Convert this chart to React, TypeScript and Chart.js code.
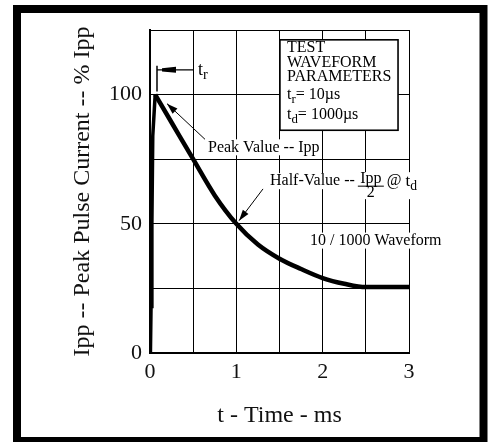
import { useEffect, useRef } from "react";
import { Chart, registerables } from "chart.js";

Chart.register(...registerables);

// ---- data ----
const riseTimeMs = [0.005, 0.012, 0.022, 0.032, 0.06];
const risePct = [0, 18, 50, 84, 100];
const decayTimeMs = [0.06, 0.25, 0.5, 0.75, 1.0, 1.25, 1.5, 1.75, 2.0, 2.25, 2.5, 3.0];
const decayPct = [100, 89.2, 75, 61, 50, 42, 36.5, 32.5, 29, 26.8, 25.5, 25.5];
const xTickLabels = [0, 1, 2, 3];
const yTickLabels = [0, 50, 100];
const xTitle = "t - Time - ms";
const yTitle = "Ipp -- Peak Pulse Current -- % Ipp";
const boxLines = ["TEST", "WAVEFORM", "PARAMETERS"];
const riseLabel = { main: "t", sub: "r", rest: "= 10\u00b5s" };
const decayLabel = { main: "t", sub: "d", rest: "= 1000\u00b5s" };
const peakText = "Peak Value -- Ipp";
const halfText = "Half-Value --";
const waveText = "10 / 1000 Waveform";

const FONT = '"Liberation Serif", "Times New Roman", serif';

function fontOf(size: number) {
  return `${size}px ${FONT}`;
}

const framePlugin = {
  id: "frame",
  beforeDraw(chart: any) {
    const ctx = chart.ctx as CanvasRenderingContext2D;
    ctx.save();
    ctx.fillStyle = "#fff";
    ctx.fillRect(0, 0, chart.width, chart.height);
    ctx.strokeStyle = "#000";
    ctx.lineWidth = 8;
    ctx.strokeRect(17, 9, 466.5, 432);
    ctx.restore();
  },
};

function line(ctx: CanvasRenderingContext2D, x1: number, y1: number, x2: number, y2: number) {
  ctx.beginPath();
  ctx.moveTo(x1, y1);
  ctx.lineTo(x2, y2);
  ctx.stroke();
}

function arrow(ctx: CanvasRenderingContext2D, x1: number, y1: number, x2: number, y2: number) {
  line(ctx, x1, y1, x2, y2);
  const a = Math.atan2(y2 - y1, x2 - x1);
  const len = 11;
  const hw = 3.5;
  const bx = x2 - Math.cos(a) * len;
  const by = y2 - Math.sin(a) * len;
  ctx.beginPath();
  ctx.moveTo(x2, y2);
  ctx.lineTo(bx - Math.sin(a) * hw, by + Math.cos(a) * hw);
  ctx.lineTo(bx + Math.sin(a) * hw, by - Math.cos(a) * hw);
  ctx.closePath();
  ctx.fill();
}

function subText(ctx: CanvasRenderingContext2D, main: string, sub: string, rest: string, x: number, y: number, size: number) {
  ctx.font = fontOf(size);
  ctx.fillText(main, x, y);
  let w = ctx.measureText(main).width;
  ctx.font = fontOf(size * 0.8);
  ctx.fillText(sub, x + w, y + size * 0.3);
  w += ctx.measureText(sub).width;
  ctx.font = fontOf(size);
  if (rest) {
    ctx.fillText(rest, x + w, y);
    w += ctx.measureText(rest).width;
  }
  return w;
}

function bgText(ctx: CanvasRenderingContext2D, text: string, x: number, y: number, size: number) {
  ctx.font = fontOf(size);
  const w = ctx.measureText(text).width;
  ctx.fillStyle = "#fff";
  ctx.fillRect(x - 1, y - size * 0.5, w + 2, size);
  ctx.fillStyle = "#000";
  ctx.fillText(text, x, y);
  return w;
}

const annotationPlugin = {
  id: "notes",
  afterDraw(chart: any) {
    const ctx = chart.ctx as CanvasRenderingContext2D;
    const xs = chart.scales.x;
    const ys = chart.scales.y;
    const X = (v: number) => xs.getPixelForValue(v);
    const Y = (v: number) => ys.getPixelForValue(v);
    ctx.save();
    ctx.fillStyle = "#000";
    ctx.strokeStyle = "#000";
    ctx.textBaseline = "middle";
    ctx.textAlign = "left";

    // rise-time marker
    ctx.lineWidth = 1.5;
    line(ctx, X(0.081), Y(111.2), X(0.081), Y(101.2));
    ctx.lineWidth = 1.2;
    const ay = Y(109.6);
    line(ctx, X(0.081), ay, X(0.5), ay);
    ctx.beginPath();
    ctx.moveTo(X(0.139), ay - 1.6);
    ctx.lineTo(X(0.301), ay - 3);
    ctx.lineTo(X(0.301), ay + 3);
    ctx.lineTo(X(0.139), ay + 1.6);
    ctx.closePath();
    ctx.fill();
    subText(ctx, riseLabel.main, riseLabel.sub, "", X(0.556), ay, 18);

    // parameter box
    const bx0 = X(1.505), bx1 = X(2.873), by0 = Y(121.2), by1 = Y(86.2);
    ctx.fillStyle = "#fff";
    ctx.fillRect(bx0, by0, bx1 - bx0, by1 - by0);
    ctx.fillStyle = "#000";
    ctx.lineWidth = 1.6;
    ctx.strokeRect(bx0, by0, bx1 - bx0, by1 - by0);
    const tx = X(1.587);
    const lineYs = [118.3, 112.3, 106.7];
    ctx.font = fontOf(16);
    boxLines.forEach((t, i) => ctx.fillText(t, tx, Y(lineYs[i])));
    subText(ctx, riseLabel.main, riseLabel.sub, riseLabel.rest, tx, Y(99.8), 16);
    subText(ctx, decayLabel.main, decayLabel.sub, decayLabel.rest, tx, Y(92.0), 16);

    // peak value label + arrow
    ctx.lineWidth = 1;
    arrow(ctx, X(0.637), Y(82.7), X(0.197), Y(96.5));
    bgText(ctx, peakText, X(0.672), Y(79.6), 16);

    // half value label + arrow
    arrow(ctx, X(1.309), Y(63.5), X(1.031), Y(51.2));
    const hx = X(1.39), hy = Y(66.5);
    const w1 = bgText(ctx, halfText, hx, hy, 16);
    const fl = hx + w1 + 3;
    const fw = 26;
    ctx.fillStyle = "#fff";
    ctx.fillRect(fl - 1, hy - 9, fw + 66, 27);
    ctx.fillStyle = "#000";
    ctx.font = fontOf(16);
    ctx.textAlign = "center";
    ctx.fillText("Ipp", fl + fw / 2, hy - 2.5);
    ctx.fillText("2", fl + fw / 2, hy + 12);
    ctx.textAlign = "left";
    ctx.lineWidth = 1;
    line(ctx, fl, hy + 5, fl + fw, hy + 5);
    ctx.font = fontOf(16);
    const atX = fl + fw + 3;
    ctx.fillText("@", atX, hy);
    const aw = ctx.measureText("@ ").width;
    subText(ctx, "t", "d", "", atX + aw, hy, 17);

    // waveform label
    bgText(ctx, waveText, X(1.853), Y(43.5), 16);

    ctx.restore();
  },
};

export default function App() {
  const ref = useRef<HTMLCanvasElement | null>(null);

  useEffect(() => {
    if (!ref.current) return;
    const common = {
      borderColor: "#000",
      borderWidth: 4.5,
      pointRadius: 0,
      fill: false,
      borderJoinStyle: "miter",
    };
    const chart = new Chart(ref.current, {
      type: "line",
      data: {
        datasets: [
          {
            ...common,
            borderWidth: 3.5,
            data: riseTimeMs.map((t, i) => ({ x: t, y: risePct[i] })),
            tension: 0,
          },
          {
            ...common,
            data: decayTimeMs.map((t, i) => ({ x: t, y: decayPct[i] })),
            cubicInterpolationMode: "monotone",
          },
        ],
      },
      options: {
        animation: false,
        responsive: false,
        events: [],
        layout: { padding: { left: 0, top: 30, right: 84, bottom: 0 } },
        plugins: { legend: { display: false }, tooltip: { enabled: false } },
        scales: {
          x: {
            type: "linear",
            min: 0,
            max: 3,
            afterFit: (s: any) => {
              s.height = 89;
            },
            ticks: {
              stepSize: 0.5,
              autoSkip: false,
              maxRotation: 0,
              padding: 6,
              color: "#111",
              font: { family: FONT, size: 22 },
              callback: (v: any) => (xTickLabels.includes(Number(v)) ? String(v) : ""),
            },
            grid: { color: "#000", lineWidth: 1, drawTicks: false },
            border: { display: true, color: "#000", width: 2 },
            title: {
              display: true,
              text: xTitle,
              color: "#111",
              font: { family: FONT, size: 24 },
              padding: { top: 0, bottom: 12 },
            },
          },
          y: {
            type: "linear",
            min: 0,
            max: 125,
            afterFit: (s: any) => {
              s.width = 150;
            },
            ticks: {
              stepSize: 25,
              autoSkip: false,
              padding: 8,
              color: "#111",
              font: { family: FONT, size: 22 },
              callback: (v: any) => (yTickLabels.includes(Number(v)) ? String(v) : ""),
            },
            grid: { color: "#000", lineWidth: 1, drawTicks: false },
            border: { display: true, color: "#000", width: 2 },
            title: {
              display: true,
              text: yTitle,
              color: "#111",
              font: { family: FONT, size: 24 },
              padding: { top: 68, bottom: 0 },
            },
          },
        },
      },
      plugins: [framePlugin, annotationPlugin],
    } as any);
    return () => chart.destroy();
  }, []);

  return (
    <div style={{ position: "fixed", left: 0, top: 0, width: 493, height: 442, background: "#fff" }}>
      <canvas ref={ref} width={493} height={442} style={{ display: "block", width: 493, height: 442 }} />
    </div>
  );
}
